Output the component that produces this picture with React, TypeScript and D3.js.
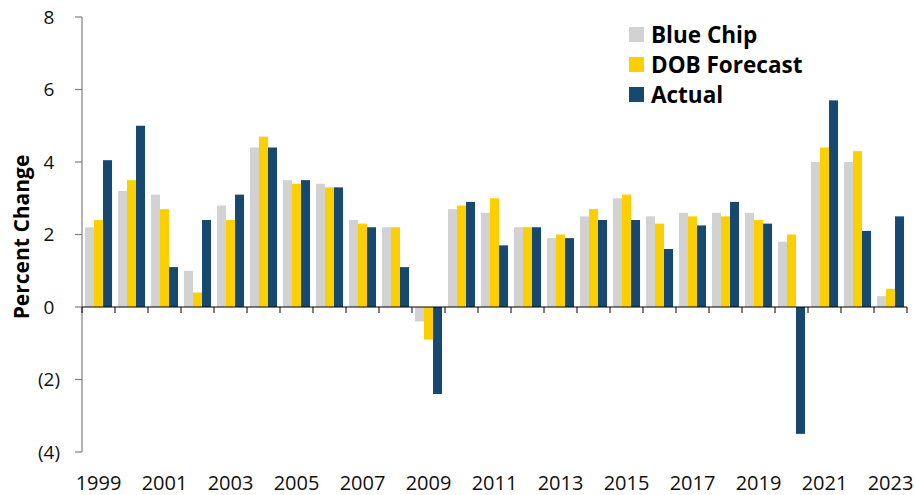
import * as d3 from 'd3';

// ---- data ----
const years = [
  1999, 2000, 2001, 2002, 2003, 2004, 2005, 2006, 2007, 2008, 2009, 2010, 2011,
  2012, 2013, 2014, 2015, 2016, 2017, 2018, 2019, 2020, 2021, 2022, 2023,
];
const blueChip = [
  2.2, 3.2, 3.1, 1.0, 2.8, 4.4, 3.5, 3.4, 2.4, 2.2, -0.4, 2.7, 2.6,
  2.2, 1.9, 2.5, 3.0, 2.5, 2.6, 2.6, 2.6, 1.8, 4.0, 4.0, 0.3,
];
const dobForecast = [
  2.4, 3.5, 2.7, 0.4, 2.4, 4.7, 3.4, 3.3, 2.3, 2.2, -0.9, 2.8, 3.0,
  2.2, 2.0, 2.7, 3.1, 2.3, 2.5, 2.5, 2.4, 2.0, 4.4, 4.3, 0.5,
];
const actual = [
  4.05, 5.0, 1.1, 2.4, 3.1, 4.4, 3.5, 3.3, 2.2, 1.1, -2.4, 2.9, 1.7,
  2.2, 1.9, 2.4, 2.4, 1.6, 2.25, 2.9, 2.3, -3.5, 5.7, 2.1, 2.5,
];
const seriesNames = ['Blue Chip', 'DOB Forecast', 'Actual'];
const seriesColors = ['#d2d2d2', '#fcd000', '#17486f'];
const yTicks = [-4, -2, 0, 2, 4, 6, 8];
const xLabelYears = years.filter((y) => (y - 1999) % 2 === 0);

const W = 915;
const H = 495;
const FONT = '"Open Sans", "Noto Sans", sans-serif';

export default function App() {
  const series = [blueChip, dobForecast, actual];

  // scales
  const x = d3
    .scaleBand<number>()
    .domain(years)
    .range([82, 907])
    .paddingInner(0.18)
    .paddingOuter(0.09);

  // full-width bands for ticks / labels
  const xStep = d3.scaleBand<number>().domain(years).range([82, 907]);

  const inner = d3
    .scaleBand<number>()
    .domain([0, 1, 2])
    .range([0, x.bandwidth()]);

  const y = d3.scaleLinear().domain([-4, 8]).range([452, 17]);

  const fmt = (v: number) => (v < 0 ? `(${Math.abs(v)})` : `${v}`);

  return (
    <svg
      width={W}
      height={H}
      style={{ position: 'absolute', left: 0, top: 0, background: '#fff' }}
      fontFamily={FONT}
    >
      {/* bars */}
      {series.map((vals, si) => (
        <g key={si} fill={seriesColors[si]}>
          {vals.map((v, i) => (
            <rect
              key={i}
              x={(x(years[i]) as number) + (inner(si) as number)}
              y={y(Math.max(0, v))}
              width={inner.bandwidth()}
              height={Math.abs(y(v) - y(0))}
            />
          ))}
        </g>
      ))}

      {/* y axis */}
      <line x1={82} x2={82} y1={y(8)} y2={y(-4)} stroke="#808080" strokeWidth={1.2} />
      {yTicks.map((t) => (
        <g key={t}>
          <line x1={75} x2={82} y1={y(t)} y2={y(t)} stroke="#808080" strokeWidth={1.2} />
          <text
            x={60}
            y={y(t)}
            dy="0.35em"
            textAnchor="end"
            fontSize={19}
            fill="#111"
          >
            {fmt(t)}
            {t >= 0 ? <tspan fillOpacity={0}>)</tspan> : null}
          </text>
        </g>
      ))}

      {/* x axis at zero */}
      <line x1={82} x2={907} y1={y(0)} y2={y(0)} stroke="#000" strokeWidth={1.2} />
      {years.concat([2024]).map((yr, i) => {
        const px = i < years.length ? (xStep(yr) as number) : 907;
        return (
          <line
            key={yr}
            x1={px}
            x2={px}
            y1={y(0)}
            y2={y(0) + 6}
            stroke="#000"
            strokeWidth={1}
          />
        );
      })}
      {xLabelYears.map((yr) => (
        <text
          key={yr}
          x={(xStep(yr) as number) + xStep.bandwidth() / 2}
          y={490}
          textAnchor="middle"
          fontSize={20}
          fill="#111"
        >
          {yr}
        </text>
      ))}

      {/* y title */}
      <text
        transform={`translate(29, ${237}) rotate(-90)`}
        textAnchor="middle"
        fontSize={21}
        fontWeight="bold"
        fill="#000"
      >
        Percent Change
      </text>

      {/* legend */}
      {seriesNames.map((name, i) => (
        <g key={name} transform={`translate(629, ${27 + i * 30})`}>
          <rect width={15} height={15} fill={seriesColors[i]} />
          <text x={22} y={7.5} dy="0.36em" fontSize={22.5} fontWeight="bold" fill="#000">
            {name}
          </text>
        </g>
      ))}
    </svg>
  );
}
